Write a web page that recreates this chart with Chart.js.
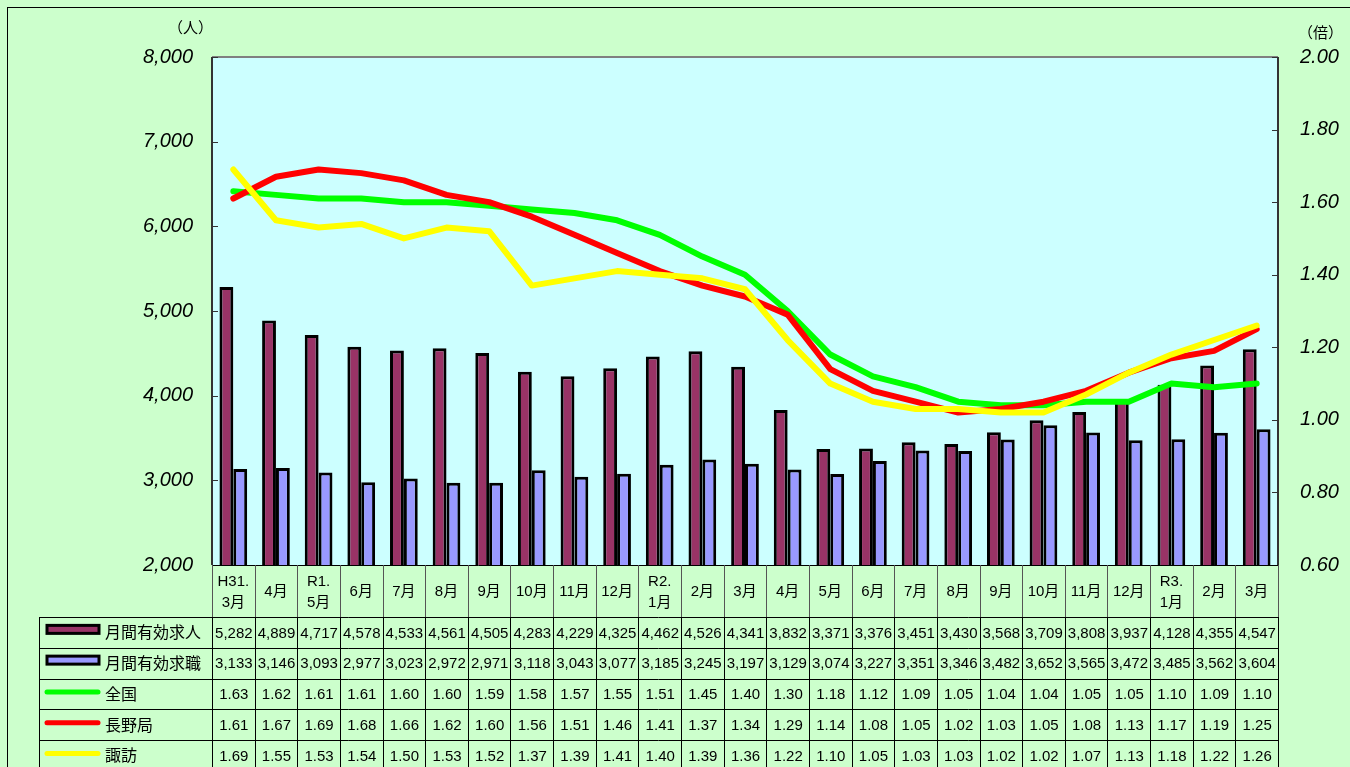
<!DOCTYPE html>
<html>
<head>
<meta charset="utf-8">
<script src="https://cdn.jsdelivr.net/npm/chart.js@4/dist/chart.umd.min.js"></script>
<style>
    html, body { margin: 0; padding: 0; background: #ccffcc; }
    #wrap { width: 1350px; height: 767px; }
</style>
</head>
<body>
<div id="wrap"><canvas id="jobsChart" width="1350" height="767"></canvas></div>
<script>
const categories = [
    ['H31.', '3月'], '4月', ['R1.', '5月'], '6月', '7月', '8月', '9月', '10月', '11月', '12月',
    ['R2.', '1月'], '2月', '3月', '4月', '5月', '6月', '7月', '8月', '9月', '10月', '11月', '12月',
    ['R3.', '1月'], '2月', '3月'
];
const kyujin = [5282, 4889, 4717, 4578, 4533, 4561, 4505, 4283, 4229, 4325, 4462, 4526, 4341,
    3832, 3371, 3376, 3451, 3430, 3568, 3709, 3808, 3937, 4128, 4355, 4547];
const kyushoku = [3133, 3146, 3093, 2977, 3023, 2972, 2971, 3118, 3043, 3077, 3185, 3245, 3197,
    3129, 3074, 3227, 3351, 3346, 3482, 3652, 3565, 3472, 3485, 3562, 3604];
const zenkoku = [1.63, 1.62, 1.61, 1.61, 1.60, 1.60, 1.59, 1.58, 1.57, 1.55, 1.51, 1.45, 1.40,
    1.30, 1.18, 1.12, 1.09, 1.05, 1.04, 1.04, 1.05, 1.05, 1.10, 1.09, 1.10];
const naganoKyoku = [1.61, 1.67, 1.69, 1.68, 1.66, 1.62, 1.60, 1.56, 1.51, 1.46, 1.41, 1.37, 1.34,
    1.29, 1.14, 1.08, 1.05, 1.02, 1.03, 1.05, 1.08, 1.13, 1.17, 1.19, 1.25];
const suwa = [1.69, 1.55, 1.53, 1.54, 1.50, 1.53, 1.52, 1.37, 1.39, 1.41, 1.40, 1.39, 1.36,
    1.22, 1.10, 1.05, 1.03, 1.03, 1.02, 1.02, 1.07, 1.13, 1.18, 1.22, 1.26];
const leftTicks = { min: 2000, max: 8000, step: 1000 };
const rightTicks = { min: 0.6, max: 2.0, step: 0.2 };

const numFont = '15px "Liberation Sans", Arial, sans-serif';
const jpFont = '16px "Noto Sans CJK JP", sans-serif';
const catFont = '15px "Liberation Sans", "Noto Sans CJK JP", sans-serif';


// Plugin: fondo verde, área de trazado celeste y bordes
const backgroundPlugin = {
    id: 'backgroundPlugin',
    beforeDraw(chart) {
        const c = chart.ctx;
        const a = chart.chartArea;
        c.save();
        c.fillStyle = '#ccffcc';
        c.fillRect(0, 0, chart.width, chart.height);
        c.strokeStyle = '#000';
        c.lineWidth = 1;
        c.strokeRect(7.5, 7.5, chart.width + 20, chart.height + 20);
        c.fillStyle = '#ccffff';
        c.fillRect(a.left, a.top, a.right - a.left, a.bottom - a.top);

        // unidades
        c.fillStyle = '#000';
        c.font = '15px "Noto Sans CJK JP", sans-serif';
        c.textBaseline = 'middle';
        c.textAlign = 'left';
        c.fillText('（人）', 168, 27);
        c.fillText('（倍）', 1298, 32);
        c.restore();
    },
    afterDatasetsDraw(chart) {
        const c = chart.ctx;
        const a = chart.chartArea;
        c.save();
        // borde superior gris
        c.strokeStyle = '#808080';
        c.lineWidth = 2;
        c.beginPath();
        c.moveTo(a.left, a.top);
        c.lineTo(a.right, a.top);
        c.stroke();
        // ejes verticales
        c.strokeStyle = '#333';
        c.lineWidth = 2;
        c.beginPath();
        c.moveTo(a.left, a.top);
        c.lineTo(a.left, a.bottom);
        c.moveTo(a.right, a.top);
        c.lineTo(a.right, a.bottom);
        c.stroke();
        // marcas internas
        c.lineWidth = 1;
        chart.scales.y.ticks.forEach(t => {
            const y = Math.round(chart.scales.y.getPixelForValue(t.value)) + 0.5;
            c.beginPath();
            c.moveTo(a.left, y);
            c.lineTo(a.left + 6, y);
            c.stroke();
        });
        chart.scales.y2.ticks.forEach(t => {
            const y = Math.round(chart.scales.y2.getPixelForValue(t.value)) + 0.5;
            c.beginPath();
            c.moveTo(a.right - 6, y);
            c.lineTo(a.right, y);
            c.stroke();
        });
        c.restore();
    }
};


// Plugin: tabla de datos debajo del gráfico
const tablePlugin = {
    id: 'tablePlugin',
    afterDraw(chart) {
        const c = chart.ctx;
        const a = chart.chartArea;
        const x = chart.scales.x;
        const n = categories.length;
        const w = x.width / n;
        const rowTop = 617;
        const rowH = 30.75;
        const tableLeft = 39;
        const bottom = chart.height + 5;

        c.save();
        // líneas horizontales
        c.strokeStyle = '#000';
        c.lineWidth = 1;
        c.beginPath();
        c.moveTo(a.left, a.bottom + 0.5);
        c.lineTo(a.right, a.bottom + 0.5);
        for (let r = 0; r < 5; r++) {
            const y = Math.round(rowTop + r * rowH) + 0.5;
            c.moveTo(tableLeft, y);
            c.lineTo(a.right, y);
        }
        c.moveTo(tableLeft + 0.5, rowTop);
        c.lineTo(tableLeft + 0.5, bottom);
        c.stroke();

        // líneas verticales de columnas
        for (let i = 0; i <= n; i++) {
            const xx = Math.round(x.getPixelForValue(i) - w / 2) + 0.5;
            c.strokeStyle = '#555';
            c.beginPath();
            c.moveTo(xx, a.bottom);
            c.lineTo(xx, rowTop);
            c.stroke();
            c.strokeStyle = '#000';
            c.beginPath();
            c.moveTo(xx, rowTop);
            c.lineTo(xx, bottom);
            c.stroke();
        }

        // etiquetas de categorías
        c.fillStyle = '#000';
        c.textAlign = 'center';
        c.textBaseline = 'middle';
        c.font = catFont;
        categories.forEach((lab, i) => {
            const cx = x.getPixelForValue(i);
            if (Array.isArray(lab)) {
                c.fillText(lab[0], cx, 582);
                c.fillText(lab[1], cx, 603);
            } else {
                c.fillText(lab, cx, 592);
            }
        });

        // filas de datos
        const rows = [
            { name: '月間有効求人', data: kyujin, fmt: v => v.toLocaleString('en-US'), type: 'bar', color: '#993366' },
            { name: '月間有効求職', data: kyushoku, fmt: v => v.toLocaleString('en-US'), type: 'bar', color: '#9999ff' },
            { name: '全国', data: zenkoku, fmt: v => v.toFixed(2), type: 'line', color: '#00ff00' },
            { name: '長野局', data: naganoKyoku, fmt: v => v.toFixed(2), type: 'line', color: '#ff0000' },
            { name: '諏訪', data: suwa, fmt: v => v.toFixed(2), type: 'line', color: '#ffff00' }
        ];
        rows.forEach((row, r) => {
            const cy = rowTop + r * rowH + rowH / 2;
            // símbolo de leyenda
            if (row.type === 'bar') {
                c.fillStyle = row.color;
                c.fillRect(47, cy - 7, 52, 8);
                c.strokeStyle = '#000';
                c.lineWidth = 3;
                c.strokeRect(47, cy - 7, 52, 8);
            } else {
                c.strokeStyle = row.color;
                c.lineWidth = 5;
                c.lineCap = 'round';
                c.beginPath();
                c.moveTo(47, cy - 2);
                c.lineTo(98, cy - 2);
                c.stroke();
            }
            c.fillStyle = '#000';
            c.textAlign = 'left';
            c.font = jpFont;
            c.fillText(row.name, 105, cy);
            c.textAlign = 'center';
            c.font = numFont;
            row.data.forEach((v, i) => {
                c.fillText(row.fmt(v), x.getPixelForValue(i) + 0.5, cy + 1);
            });
        });
        c.restore();
    }
};


// Gráfico mixto de barras y líneas
const ctxJobs = document.getElementById('jobsChart').getContext('2d');
const jobsChart = new Chart(ctxJobs, {
    type: 'bar',
    data: {
        labels: categories,
        datasets: [
            {
                label: '月間有効求人',
                data: kyujin,
                backgroundColor: '#993366',
                borderColor: '#000',
                borderWidth: 3,
                categoryPercentage: 0.65,
                barPercentage: 1.0,
                yAxisID: 'y',
                order: 3
            },
            {
                label: '月間有効求職',
                data: kyushoku,
                backgroundColor: '#9999ff',
                borderColor: '#000',
                borderWidth: 3,
                categoryPercentage: 0.65,
                barPercentage: 1.0,
                yAxisID: 'y',
                order: 4
            },
            {
                type: 'line',
                label: '全国',
                data: zenkoku,
                borderColor: '#00ff00',
                borderWidth: 6,
                pointRadius: 0,
                tension: 0,
                borderJoinStyle: 'round',
                borderCapStyle: 'round',
                yAxisID: 'y2',
                order: 2
            },
            {
                type: 'line',
                label: '長野局',
                data: naganoKyoku,
                borderColor: '#ff0000',
                borderWidth: 6,
                pointRadius: 0,
                tension: 0,
                borderJoinStyle: 'round',
                borderCapStyle: 'round',
                yAxisID: 'y2',
                order: 1
            },
            {
                type: 'line',
                label: '諏訪',
                data: suwa,
                borderColor: '#ffff00',
                borderWidth: 6,
                pointRadius: 0,
                tension: 0,
                borderJoinStyle: 'round',
                borderCapStyle: 'round',
                yAxisID: 'y2',
                order: 0
            }
        ]
    },
    options: {
        responsive: false,
        animation: false,
        layout: { padding: { top: 57, left: 0, right: 0, bottom: 0 } },
        plugins: {
            legend: { display: false },
            tooltip: { enabled: false }
        },
        scales: {
            x: {
                ticks: { display: false },
                grid: { display: false, drawTicks: false },
                border: { display: false },
                afterFit(scale) { scale.height = 202; }
            },
            y: {
                position: 'left',
                min: leftTicks.min,
                max: leftTicks.max,
                ticks: {
                    stepSize: leftTicks.step,
                    padding: 19,
                    color: '#000',
                    font: { family: '"Liberation Sans", Arial, sans-serif', size: 20, style: 'italic' },
                    callback: v => v.toLocaleString('en-US')
                },
                grid: { display: false, drawTicks: false },
                border: { display: false },
                afterFit(scale) { scale.width = 212; }
            },
            y2: {
                position: 'right',
                min: rightTicks.min,
                max: rightTicks.max,
                ticks: {
                    stepSize: rightTicks.step,
                    padding: 22,
                    color: '#000',
                    font: { family: '"Liberation Sans", Arial, sans-serif', size: 20, style: 'italic' },
                    callback: v => Number(v).toFixed(2)
                },
                grid: { display: false, drawTicks: false },
                border: { display: false },
                afterFit(scale) { scale.width = 72; }
            }
        }
    },
    plugins: [backgroundPlugin, tablePlugin]
});
</script>
</body>
</html>
